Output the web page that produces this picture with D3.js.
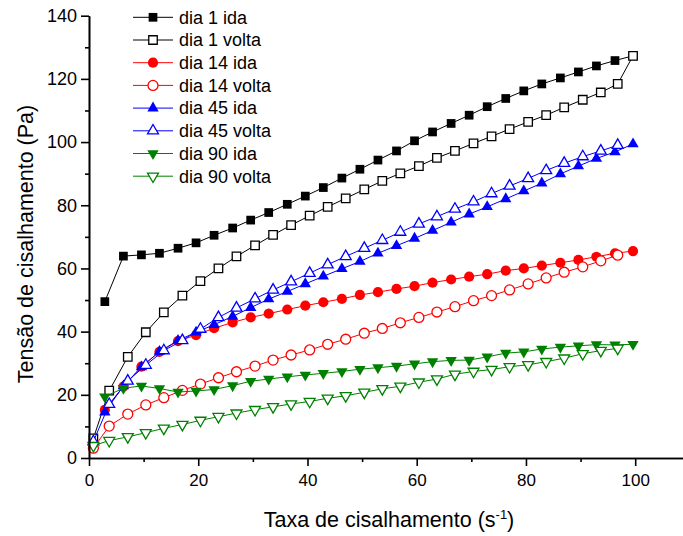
<!DOCTYPE html>
<html>
<head>
<meta charset="utf-8">
<script src="https://cdn.jsdelivr.net/npm/d3@7"></script>
<style>
body{margin:0;background:#fff}
svg{display:block;font-family:"Liberation Sans",Arial,sans-serif}
.axis path,.axis line{stroke:#000;stroke-width:1.6}
.axis text{fill:#000}
</style>
</head>
<body>
<svg id="plot" width="683" height="536"></svg>
<script>
//data (shear rate in 1/s, stress in Pa)
const xIda = [2.9, 6.3, 9.6, 12.9, 16.3, 19.6, 22.9, 26.3, 29.6, 32.9, 36.3, 39.6, 42.9, 46.3, 49.6,
              52.9, 56.3, 59.6, 62.9, 66.3, 69.6, 72.9, 76.3, 79.6, 82.9, 86.3, 89.6, 92.9, 96.3, 99.6]
const xVolta = [0.8, 3.7, 7.1, 10.4, 13.7, 17.1, 20.4, 23.7, 27.0, 30.4, 33.7, 37.0, 40.4, 43.7, 47.0,
                50.4, 53.7, 57.0, 60.4, 63.7, 67.0, 70.4, 73.7, 77.0, 80.4, 83.7, 87.0, 90.4, 93.7, 96.8]
const xVoltaDia1 = xVolta.concat([99.6])

const dia1Ida = [49.5, 63.9, 64.3, 64.8, 66.4, 68.1, 70.5, 72.8, 75.3, 77.7, 80.3, 82.9, 85.6, 88.6, 91.4,
                 94.3, 97.2, 100.4, 103.2, 105.9, 108.5, 111.2, 113.8, 116.2, 118.4, 120.3, 122.2, 124.1, 125.8, 127.3]
const dia1Volta = [6.2, 21.3, 32.0, 39.8, 46.1, 51.4, 56.0, 60.0, 63.8, 67.3, 70.6, 73.7, 76.7, 79.5, 82.2,
                   85.0, 87.7, 90.1, 92.4, 95.0, 97.2, 99.6, 101.8, 104.1, 106.4, 108.5, 111.0, 113.4, 115.7, 118.4, 127.3]
const dia14Ida = [15.2, 22.6, 28.9, 33.6, 37.0, 38.9, 41.1, 42.9, 44.5, 45.7, 47.0, 48.2, 49.3, 50.4, 51.6,
                  52.5, 53.5, 54.4, 55.5, 56.5, 57.4, 58.2, 59.3, 60.0, 60.9, 61.8, 62.7, 63.7, 64.8, 65.5]
const dia14Volta = [3.1, 10.1, 13.9, 16.8, 19.1, 21.4, 23.4, 25.4, 27.3, 29.1, 31.0, 32.6, 34.2, 36.0, 37.6,
                    39.5, 41.0, 42.8, 44.5, 46.2, 47.9, 49.8, 51.4, 53.2, 55.1, 57.0, 58.8, 60.5, 62.4, 64.2]
const dia45Ida = [14.5, 22.8, 28.8, 33.7, 37.2, 39.8, 42.2, 44.8, 47.6, 50.3, 52.7, 55.1, 57.5, 59.9, 62.2,
                  64.8, 67.2, 69.5, 72.0, 74.6, 77.2, 79.5, 82.0, 84.5, 87.0, 89.9, 92.4, 94.8, 96.9, 99.4]
const dia45Volta = [5.2, 17.0, 24.4, 29.4, 34.0, 37.2, 40.8, 44.5, 47.5, 50.4, 53.2, 55.8, 58.5, 61.2, 63.8,
                    66.4, 68.9, 71.5, 74.1, 76.4, 78.8, 81.1, 83.7, 86.1, 88.5, 91.0, 93.3, 95.4, 97.2, 99.0]
const dia90Ida = [19.4, 22.1, 22.8, 22.0, 20.9, 21.2, 21.7, 22.9, 24.3, 25.0, 25.7, 26.3, 26.8, 27.4, 28.1,
                  28.6, 29.1, 29.8, 30.5, 30.9, 31.0, 32.0, 33.2, 33.6, 34.5, 35.1, 35.5, 35.9, 35.8, 36.0]
const dia90Volta = [3.9, 5.5, 6.7, 8.0, 9.4, 10.6, 11.9, 13.1, 14.2, 15.3, 16.2, 17.1, 17.9, 18.9, 19.7,
                    20.8, 21.9, 22.7, 24.0, 25.0, 26.5, 27.4, 28.0, 28.9, 29.5, 30.5, 31.6, 33.0, 34.0, 34.7]

const seriesNames = ["dia 1 ida", "dia 1 volta", "dia 14 ida", "dia 14 volta",
                     "dia 45 ida", "dia 45 volta", "dia 90 ida", "dia 90 volta"]
const xTicks = [0, 20, 40, 60, 80, 100]
const yTicks = [0, 20, 40, 60, 80, 100, 120, 140]

//global vars
let xScale, yScale
let svg = d3.select("#plot")

svg.append("rect").attr("width", 683).attr("height", 536).attr("fill", "#fff")

xScale = d3.scaleLinear().domain([0, 110]).range([89, 89 + 110 * 5.462])
yScale = d3.scaleLinear().domain([0, 140]).range([458, 15.7])

// series table: x, y, colour, shape, filled
let series = [
    {x: xIda, y: dia1Ida, c: "#000000", s: d3.symbolSquare, size: 76, f: true, rot: 0},
    {x: xVoltaDia1, y: dia1Volta, c: "#000000", s: d3.symbolSquare, size: 72, f: false, rot: 0},
    {x: xIda, y: dia14Ida, c: "#ff0000", s: d3.symbolCircle, size: 82, f: true, rot: 0},
    {x: xVolta, y: dia14Volta, c: "#ff0000", s: d3.symbolCircle, size: 78, f: false, rot: 0},
    {x: xIda, y: dia45Ida, c: "#0000ff", s: d3.symbolTriangle, size: 56, f: true, rot: 0},
    {x: xVolta, y: dia45Volta, c: "#0000ff", s: d3.symbolTriangle, size: 52, f: false, rot: 0},
    {x: xIda, y: dia90Ida, c: "#008000", s: d3.symbolTriangle, size: 56, f: true, rot: 180},
    {x: xVolta, y: dia90Volta, c: "#008000", s: d3.symbolTriangle, size: 52, f: false, rot: 180}
]
series.forEach(function (d, i) { d.name = seriesNames[i] })

let line = d3.line()
    .x(function (d) { return xScale(d[0]) })
    .y(function (d) { return yScale(d[1]) })

// lines + markers, one series at a time (later series sit on top)
series.forEach(function (s) {
    let pts = s.x.map(function (v, i) { return [v, s.y[i]] })
    let g = svg.append("g").attr("class", "series")
    g.append("path")
        .attr("d", line(pts))
        .attr("fill", "none")
        .attr("stroke", s.c)
        .attr("stroke-width", 1)
    g.selectAll(".markers").data(pts).enter()
        .append("path")
        .attr("class", "markers")
        .attr("transform", function (d) {
            return `translate(${xScale(d[0])},${yScale(d[1])}) rotate(${s.rot})`})
        .attr("d", d3.symbol().type(s.s).size(s.size))
        .attr("fill", s.f ? s.c : "#fff")
        .attr("stroke", s.f ? "none" : s.c)
        .attr("stroke-width", 1.3)
})

// x and y Axis
let x_axis = d3.axisBottom(xScale).tickValues(xTicks).tickSize(8).tickSizeOuter(0).tickPadding(8)
let y_axis = d3.axisLeft(yScale).tickValues(yTicks).tickSize(8).tickSizeOuter(0).tickPadding(4)
let x_minor = d3.axisBottom(xScale).tickValues([10, 30, 50, 70, 90]).tickSize(4).tickSizeOuter(0).tickFormat("")
let y_minor = d3.axisLeft(yScale).tickValues([10, 30, 50, 70, 90, 110, 130]).tickSize(4).tickSizeOuter(0).tickFormat("")

svg.append("g").attr("class", "axis").attr("transform", "translate(0,458)").call(x_minor)
svg.append("g").attr("class", "axis").attr("transform", "translate(89,0)").call(y_minor)
svg.append("g").attr("class", "axis axisX")
    .attr("transform", "translate(0,458)")
    .call(x_axis)
    .selectAll("text").attr("font-size", 17)
svg.append("g").attr("class", "axis axisY")
    .attr("transform", "translate(89,0)")
    .call(y_axis)
    .selectAll("text").attr("font-size", 18)
svg.selectAll(".axis text").attr("font-family", "Liberation Sans, Arial, sans-serif")

// Labels
let xl = svg.append("text")
    .attr("x", 389).attr("y", 527)
    .attr("text-anchor", "middle")
    .attr("font-size", 21.5)
    .text("Taxa de cisalhamento (s")
xl.append("tspan").attr("dy", -8).attr("font-size", 13).text("-1")
xl.append("tspan").attr("dy", 8).text(")")

svg.append("text")
    .attr("transform", "translate(33,244) rotate(-90)")
    .attr("text-anchor", "middle")
    .attr("font-size", 21.5)
    .text("Tensão de cisalhamento (Pa)")

// Legend
let legend = svg.append("g").attr("class", "legend")
let rows = legend.selectAll("g").data(series).enter().append("g")
    .attr("transform", function (d, i) { return `translate(0,${17.3 + i * 22.7})` })
rows.append("line")
    .attr("x1", 133).attr("x2", 173)
    .attr("stroke", function (d) { return d.c })
    .attr("stroke-width", 1)
rows.append("path")
    .attr("transform", function (d) { return `translate(153,0) rotate(${d.rot})` })
    .attr("d", function (d) { return d3.symbol().type(d.s).size(d.size)() })
    .attr("fill", function (d) { return d.f ? d.c : "#fff" })
    .attr("stroke", function (d) { return d.f ? "none" : d.c })
    .attr("stroke-width", 1.3)
rows.append("text")
    .attr("x", 179).attr("dy", "0.35em")
    .attr("font-size", 18)
    .text(function (d) { return d.name })
</script>
</body>
</html>
